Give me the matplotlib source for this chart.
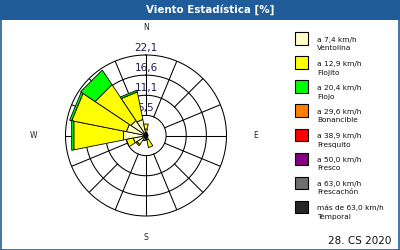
import matplotlib
matplotlib.use("Agg")
import matplotlib.pyplot as plt
import numpy as np
from matplotlib.patches import Rectangle

# direcciones (sentido horario desde N)
directions = ['N', 'NNE', 'NE', 'ENE', 'E', 'ESE', 'SE', 'SSE',
              'S', 'SSW', 'SW', 'WSW', 'W', 'WNW', 'NW', 'NNW']

# porcentaje por clase de velocidad
ventolina = [1.8, 0.8, 0.6, 0.5, 0.6, 0.5, 0.7, 1.2,
             1.0, 1.5, 3.0, 3.6, 6.3, 5.5, 5.0, 4.5]
flojito = [1.4, 0.0, 0.0, 0.0, 0.0, 0.0, 0.0, 2.2,
           0.3, 0.0, 0.4, 1.9, 13.9, 15.3, 11.8, 7.7]
flojo = [0.0, 0.0, 0.0, 0.0, 0.0, 0.0, 0.0, 0.0,
         0.0, 0.0, 0.0, 0.0, 0.6, 0.6, 4.8, 0.5]

ring_labels = ['5,5', '11,1', '16,6', '22,1']
ring_values = [5.525, 11.05, 16.575, 22.1]

legend_top = ['a 7,4 km/h', 'a 12,9 km/h', 'a 20,4 km/h', 'a 29,6 km/h',
              'a 38,9 km/h', 'a 50,0 km/h', 'a 63,0 km/h', 'más de 63,0 km/h']
legend_bottom = ['Ventolina', 'Flojito', 'Flojo', 'Bonancible',
                 'Fresquito', 'Fresco', 'Frescachón', 'Temporal']
legend_colors = ['#ffffc8', '#ffff00', '#00ff00', '#ff8000',
                 '#ff0000', '#800080', '#6e6e6e', '#262626']

blue = '#1f5c99'

fig = plt.figure(figsize=(4, 2.5), dpi=100)
fig.patch.set_facecolor('white')

# marco y barra de titulo
fig.patches.append(Rectangle((0, 0.92), 1, 0.08, transform=fig.transFigure,
                             facecolor=blue, edgecolor='none', zorder=0))
fig.patches.append(Rectangle((0.0015, 0.002), 0.997, 0.996, transform=fig.transFigure,
                             facecolor='none', edgecolor=blue, linewidth=1.2, zorder=1))
fig.text(0.525, 0.96, 'Viento Estadística [%]', color='white', fontsize=7.4,
         fontweight='bold', ha='center', va='center')

ax = fig.add_axes([(146 - 80.5) / 400, (250 - 135.5 - 80.5) / 250, 161 / 400, 161 / 250],
                  projection='polar')
ax.set_theta_zero_location('N')
ax.set_theta_direction(-1)
ax.set_ylim(0, 22.1)
ax.set_xticks([])
ax.set_yticks([])
ax.grid(False)
ax.spines['polar'].set_visible(False)

theta = np.deg2rad(np.arange(16) * 22.5)
half = np.pi / 16

# rejilla
t = np.linspace(0, 2 * np.pi, 400)
for rv in ring_values:
    ax.plot(t, np.full_like(t, rv), color='black', lw=0.75, zorder=2, clip_on=False)
for i, th in enumerate(theta):
    start = ring_values[1] if i % 4 == 2 else ring_values[0]
    ax.plot([th, th], [start, 22.1], color='black', lw=0.75, zorder=2)

for rv, lab in zip(ring_values, ring_labels):
    ax.text(0, rv + 1.9, lab, ha='center', va='center', fontsize=7.5,
            color='#1c1c50', zorder=3, clip_on=False)

# sectores con borde exterior recto
b0 = np.zeros(16)
for series, col in zip([ventolina, flojito, flojo], legend_colors[:3]):
    vals = np.array(series)
    for th, lo, v in zip(theta, b0, vals):
        if v <= 0:
            continue
        hi = lo + v
        ax.fill([th - half, th - half, th + half, th + half],
                [lo, hi, hi, lo], facecolor=col, edgecolor='black',
                linewidth=0.6, zorder=4)
    b0 = b0 + vals

# puntos cardinales
fig.text(146 / 400, 1 - 27 / 250, 'N', fontsize=5.5, ha='center', va='center', color='#222222')
fig.text(146 / 400, 1 - 238 / 250, 'S', fontsize=5.5, ha='center', va='center', color='#222222')
fig.text(34 / 400, 1 - 136 / 250, 'W', fontsize=5.5, ha='center', va='center', color='#222222')
fig.text(256 / 400, 1 - 136 / 250, 'E', fontsize=5.5, ha='center', va='center', color='#222222')

# leyenda
for i in range(len(legend_colors)):
    top = 32.5 + i * 24
    fig.patches.append(Rectangle((295 / 400, 1 - (top + 12.5) / 250), 12.5 / 400, 12.5 / 250,
                                 transform=fig.transFigure, facecolor=legend_colors[i],
                                 edgecolor='black', linewidth=0.8))
    fig.text(317 / 400, 1 - (top + 7.5) / 250, legend_top[i], fontsize=5.3,
             ha='left', va='center', color='#111111')
    fig.text(317 / 400, 1 - (top + 16) / 250, legend_bottom[i], fontsize=5.3,
             ha='left', va='center', color='#111111')

fig.text(391 / 400, 1 - 241 / 250, '28. CS 2020', fontsize=7.5, ha='right',
         va='center', color='#111111')

fig.savefig('out.png', dpi=100)
